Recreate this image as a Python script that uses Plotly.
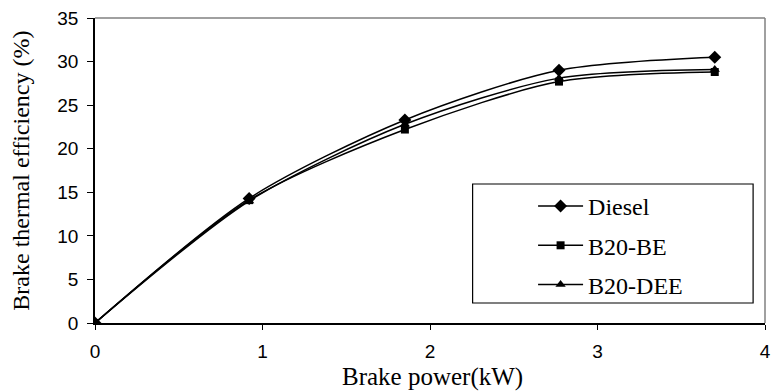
import plotly.graph_objects as go

brake_power = [0, 0.92, 1.85, 2.77, 3.70]
diesel = [0, 14.3, 23.3, 29.0, 30.5]
b20_be = [0, 14.1, 22.2, 27.7, 28.8]
b20_dee = [0, 14.0, 22.8, 28.1, 29.1]

series = [
    ("Diesel", diesel, "diamond", 10),
    ("B20-BE", b20_be, "square", 8),
    ("B20-DEE", b20_dee, "triangle-up", 9),
]

W, H = 777, 392
# target plot area in page pixels
SL, SR, ST, SB = 95, 771, 18, 323
L, T = SL, ST
R, B = W - SR, H - SB
pw, ph = W - L - R, H - T - B

def px(sx):
    return (sx - L) / pw

def py(sy):
    return (H - B - sy) / ph

fig = go.Figure()
for i, (name, vals, sym, size) in enumerate(series):
    fig.add_trace(go.Scatter(
        x=brake_power, y=vals, name=name, mode="lines+markers",
        line=dict(color="black", width=1.5, shape="spline", smoothing=0.8),
        marker=dict(symbol=sym, size=size, color="black"),
        legendgroup=f"g{i}",
    ))

fig.update_layout(
    width=W, height=H,
    margin=dict(l=L, r=R, t=T, b=B),
    paper_bgcolor="white", plot_bgcolor="white",
    showlegend=True,
    legend=dict(
        x=px(537), xanchor="left", y=py(184), yanchor="top",
        bgcolor="rgba(0,0,0,0)", borderwidth=0,
        font=dict(family="Liberation Serif", size=24, color="black"),
        itemwidth=45, tracegroupgap=5, traceorder="grouped",
    ),
    xaxis=dict(
        range=[0, 4], dtick=1, showgrid=False, zeroline=False,
        showline=True, linecolor="black", linewidth=1.5,
        ticks="outside", ticklen=5, tickcolor="black",
        tickfont=dict(family="Liberation Sans", size=19, color="black"),
        ticklabelstandoff=5, ticklabeloverflow="allow", fixedrange=True,
    ),
    yaxis=dict(
        range=[0, 35], dtick=5, showgrid=False, zeroline=False,
        showline=True, linecolor="black", linewidth=1.5,
        ticks="outside", ticklen=6, tickcolor="black",
        tickfont=dict(family="Liberation Sans", size=19, color="black"),
        ticklabelstandoff=5, ticklabeloverflow="allow", fixedrange=True,
    ),
    shapes=[
        dict(type="line", xref="paper", yref="paper", x0=0, x1=1, y0=1, y1=1,
             line=dict(color="#808080", width=1.5)),
        dict(type="line", xref="paper", yref="paper", x0=1, x1=1, y0=0, y1=1,
             line=dict(color="#808080", width=1.5)),
        dict(type="rect", xref="paper", yref="paper",
             x0=px(476), x1=px(759), y0=py(303), y1=py(184),
             line=dict(color="black", width=1.2), fillcolor="rgba(0,0,0,0)"),
    ],
    annotations=[
        dict(text="Brake power(kW)", xref="paper", yref="paper",
             x=px(436), y=py(377), xanchor="center", yanchor="middle",
             showarrow=False,
             font=dict(family="Liberation Serif", size=25, color="black")),
        dict(text="Brake thermal efficiency (%)", xref="paper", yref="paper",
             x=px(20), y=py(171), xanchor="center", yanchor="middle",
             textangle=-90, showarrow=False,
             font=dict(family="Liberation Serif", size=24, color="black")),
    ],
)

fig.write_html(
    "out.html",
    config={"displayModeBar": False},
    post_script="document.body.style.margin='0';document.body.style.overflow='hidden';",
)
